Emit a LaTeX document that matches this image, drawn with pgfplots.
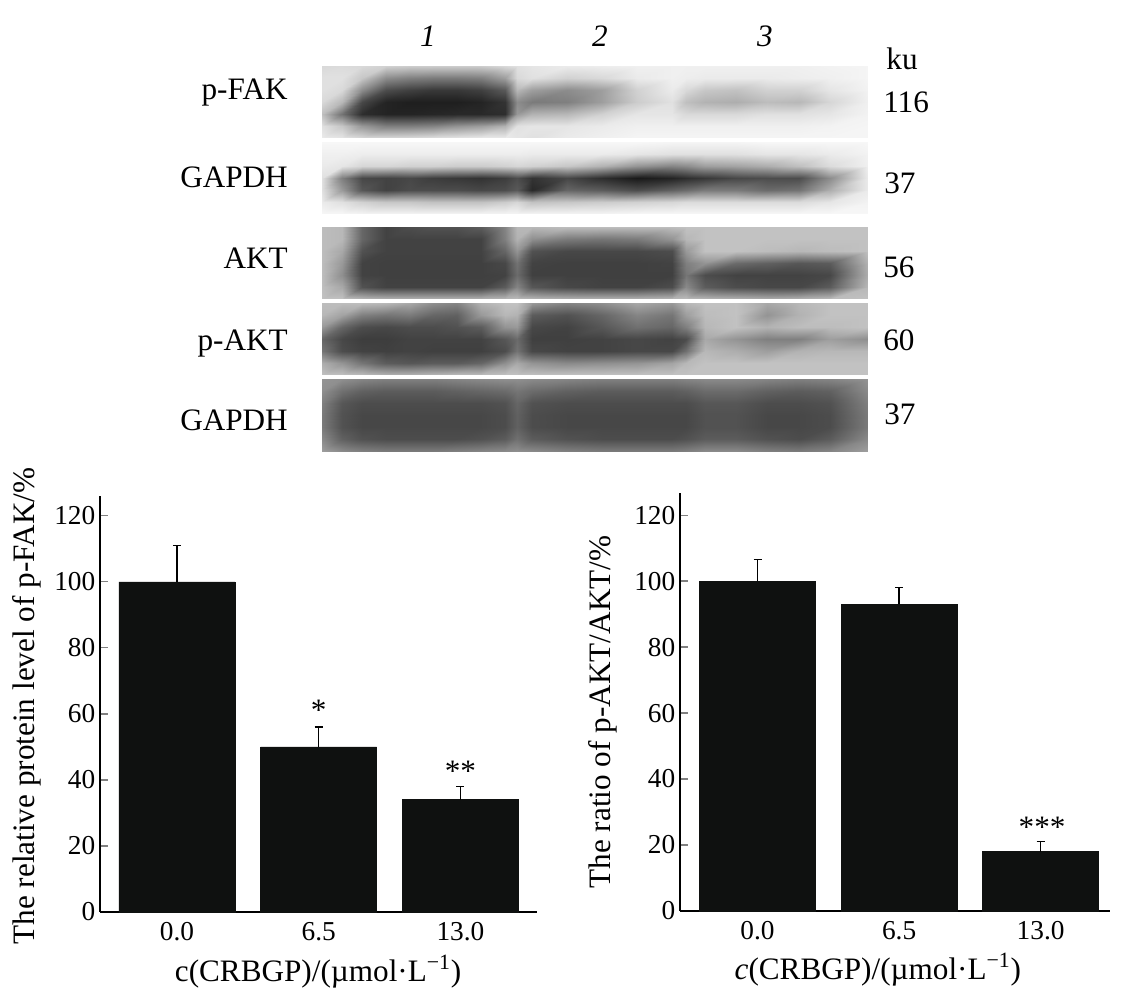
\documentclass[border=0pt]{standalone}
\usepackage{fontspec}
\setmainfont{Liberation Serif}
\usepackage{pgfplots}
\usepackage{pgfplotstable}
\pgfplotsset{compat=1.18}

\definecolor{barblack}{HTML}{0F1110}
\newcommand{\lab}{\fontsize{23.4}{25}\selectfont}
\newcommand{\tck}{\fontsize{20.5}{22}\selectfont}

% one blot panel: 22 x 7 grid of grey levels, top row first
\newcommand{\blot}[2]{%
  \addplot3[surf, shader=interp, mesh/cols=22] table[header=false, row sep=\\,
    x expr={colx(\coordindex-22*floor((\coordindex+0.5)/22))},
    y expr={#1+12*floor((\coordindex+0.5)/22)},
    z index=0] {#2};
}

\pgfplotsset{
  barchart/.style={
    scale only axis,
    anchor=south west,
    ybar,
    bar width=87pt,
    bar shift=0pt,
    axis lines*=left,
    axis line style={-, line width=1pt},
    ymin=0,
    xtick={0,1,2},
    xticklabels={0.0,6.5,13.0},
    ytick={0,20,40,60,80,100,120},
    xtick style={draw=none},
    ytick style={line width=0.9pt},
    tick align=inside,
    major tick length=6pt,
    tick label style={font=\tck, /pgf/number format/assume math mode=true},
    xticklabel shift=4pt,
    ylabel style={font=\lab, anchor=center},
    xlabel style={font=\lab, anchor=center},
    clip=false,
  },
  barplot/.style={
    fill=barblack, draw=barblack,
    error bars/.cd, y dir=plus, y explicit,
    error mark=|,
    error bar style={line width=1pt, black},
    error mark options={line width=1pt, black, mark size=3pt},
  },
}

\begin{document}
\begin{tikzpicture}
\path[use as bounding box] (0,0) rectangle (841.5pt,750pt);

% blots and their labels, in pixel coordinates of the page
\begin{axis}[
  at={(0pt,0pt)}, anchor=south west,
  width=841.5pt, height=750pt, scale only axis,
  hide axis, clip=false,
  xmin=0, xmax=1122, ymin=0, ymax=1000, y dir=reverse,
  view={0}{90},
  colormap={blot}{gray(0cm)=(0); gray(1cm)=(1)},
  point meta min=0, point meta max=100,
  declare function={
    cl(\v,\n)=max(0,min(\v,\n));
    colx(\c)=322+20*cl(\c,2)+23.83*cl(\c-2,6)+12*cl(\c-8,1)+15*cl(\c-9,1)
      +35*cl(\c-10,4)+14*cl(\c-14,1)+19*cl(\c-15,1)+31.25*cl(\c-16,4)+38*cl(\c-20,1);
  },
]
% p-FAK
\blot{66}{
85\\86\\85\\82\\80\\80\\80\\80\\85\\88\\90\\92\\93\\94\\94\\94\\94\\94\\94\\94\\95\\96\\
88\\88\\78\\55\\50\\48\\48\\50\\62\\85\\88\\82\\85\\92\\94\\93\\92\\92\\92\\93\\94\\96\\
88\\85\\55\\30\\25\\22\\22\\25\\35\\72\\62\\55\\62\\82\\92\\85\\78\\76\\82\\82\\90\\95\\
85\\72\\28\\14\\12\\12\\12\\14\\20\\55\\48\\50\\62\\80\\88\\75\\70\\68\\74\\72\\84\\94\\
75\\45\\18\\14\\14\\15\\16\\16\\18\\60\\70\\72\\82\\90\\90\\85\\85\\85\\88\\88\\90\\95\\
88\\78\\60\\50\\50\\52\\58\\62\\70\\88\\90\\90\\92\\94\\94\\94\\94\\94\\94\\94\\95\\96\\
92\\90\\85\\85\\86\\88\\90\\92\\92\\90\\88\\92\\94\\96\\96\\96\\96\\96\\96\\96\\96\\96\\
}
% GAPDH
\blot{142}{
97\\97\\97\\97\\97\\97\\97\\97\\97\\97\\97\\97\\97\\97\\96\\96\\96\\96\\97\\97\\97\\97\\
94\\94\\93\\93\\93\\93\\93\\93\\93\\93\\92\\92\\92\\90\\88\\88\\88\\88\\90\\90\\92\\95\\
92\\90\\84\\84\\82\\82\\80\\80\\82\\84\\82\\78\\70\\58\\52\\55\\62\\64\\68\\75\\86\\94\\
88\\50\\28\\26\\28\\24\\22\\20\\24\\30\\20\\28\\18\\10\\14\\18\\22\\28\\30\\30\\55\\92\\
88\\60\\34\\26\\30\\30\\30\\28\\30\\35\\16\\40\\36\\30\\38\\42\\48\\48\\42\\45\\68\\92\\
92\\88\\82\\78\\78\\76\\76\\76\\80\\84\\76\\78\\80\\82\\84\\86\\86\\86\\86\\86\\90\\95\\
97\\97\\96\\96\\96\\96\\96\\96\\96\\96\\96\\96\\96\\97\\97\\97\\97\\97\\97\\97\\97\\97\\
}
% AKT
\blot{227}{
74\\72\\40\\26\\30\\32\\32\\36\\52\\72\\72\\74\\74\\74\\74\\76\\76\\76\\76\\76\\76\\76\\
74\\72\\40\\26\\26\\26\\26\\26\\50\\70\\56\\48\\46\\48\\58\\72\\76\\76\\76\\76\\76\\76\\
74\\66\\32\\26\\26\\26\\26\\26\\40\\58\\32\\28\\28\\28\\30\\60\\76\\76\\74\\72\\74\\76\\
74\\60\\26\\25\\25\\25\\25\\25\\28\\45\\26\\25\\25\\25\\26\\50\\58\\42\\38\\34\\36\\70\\
74\\56\\26\\25\\25\\25\\25\\25\\26\\42\\25\\25\\25\\25\\25\\46\\30\\26\\26\\26\\28\\68\\
75\\66\\32\\26\\26\\26\\26\\26\\36\\52\\34\\28\\26\\26\\30\\54\\36\\30\\28\\28\\36\\72\\
76\\76\\72\\70\\70\\70\\70\\70\\72\\74\\72\\70\\70\\70\\72\\74\\72\\70\\68\\70\\74\\76\\
}
% p-AKT
\blot{303}{
74\\74\\74\\72\\66\\56\\52\\70\\76\\76\\60\\52\\56\\66\\60\\72\\76\\76\\66\\72\\76\\76\\
72\\64\\50\\46\\48\\40\\38\\60\\72\\70\\36\\32\\40\\52\\46\\62\\74\\76\\58\\70\\76\\76\\
60\\40\\30\\28\\30\\30\\32\\36\\58\\60\\28\\26\\34\\44\\40\\50\\72\\76\\70\\74\\74\\76\\
40\\28\\24\\24\\26\\26\\26\\26\\34\\42\\25\\25\\26\\28\\26\\30\\66\\58\\50\\50\\62\\56\\
46\\30\\26\\25\\26\\25\\25\\25\\30\\45\\28\\26\\26\\28\\28\\44\\72\\68\\62\\70\\72\\72\\
68\\58\\46\\36\\34\\36\\36\\40\\56\\66\\58\\54\\56\\58\\64\\72\\76\\76\\76\\76\\76\\76\\
76\\76\\74\\70\\70\\72\\74\\74\\76\\76\\76\\76\\76\\76\\76\\76\\76\\76\\76\\76\\76\\76\\
}
% GAPDH
\blot{379}{
58\\56\\52\\50\\50\\50\\52\\54\\56\\56\\54\\52\\50\\50\\50\\52\\54\\54\\52\\50\\52\\58\\
56\\44\\38\\36\\36\\36\\38\\40\\42\\46\\42\\38\\36\\36\\36\\38\\42\\42\\38\\36\\38\\54\\
50\\34\\30\\30\\30\\30\\30\\30\\32\\40\\32\\30\\30\\30\\30\\30\\34\\34\\30\\30\\32\\50\\
48\\32\\28\\28\\28\\28\\28\\28\\30\\38\\30\\28\\28\\28\\28\\28\\32\\32\\28\\28\\30\\48\\
48\\32\\28\\28\\28\\28\\28\\28\\30\\38\\30\\28\\28\\28\\28\\28\\32\\32\\28\\28\\30\\48\\
54\\38\\32\\30\\30\\30\\30\\32\\36\\44\\36\\32\\30\\30\\30\\32\\36\\36\\32\\30\\36\\54\\
62\\54\\50\\48\\48\\48\\50\\52\\54\\56\\54\\50\\48\\48\\48\\50\\54\\54\\50\\48\\52\\62\\
}

\node[font=\lab\itshape] at (axis cs:428,36) {1};
\node[font=\lab\itshape] at (axis cs:600,36) {2};
\node[font=\lab\itshape] at (axis cs:765,36) {3};
\node[font=\lab] at (axis cs:902,59) {ku};
\node[font=\lab, anchor=west, inner sep=0pt] at (axis cs:883,102) {116};
\node[font=\lab, anchor=west, inner sep=0pt] at (axis cs:884,183) {37};
\node[font=\lab, anchor=west, inner sep=0pt] at (axis cs:883,267) {56};
\node[font=\lab, anchor=west, inner sep=0pt] at (axis cs:883,340) {60};
\node[font=\lab, anchor=west, inner sep=0pt] at (axis cs:884,414) {37};
\node[font=\lab, anchor=east, inner sep=0pt] at (axis cs:288,93) {p-FAK};
\node[font=\lab, anchor=east, inner sep=0pt] at (axis cs:288,177) {GAPDH};
\node[font=\lab, anchor=east, inner sep=0pt] at (axis cs:288,258) {AKT};
\node[font=\lab, anchor=east, inner sep=0pt] at (axis cs:288,344) {p-AKT};
\node[font=\lab, anchor=east, inner sep=0pt] at (axis cs:288,420) {GAPDH};
\end{axis}

% left chart
\begin{axis}[
  barchart,
  at={(75pt,66pt)},
  width=327.75pt, height=312pt,
  xmin=-0.543, xmax=2.54, ymax=126,
  ylabel={The relative protein level of p-FAK/\%},
  xlabel={c(CRBGP)/(µmol·L\textsuperscript{−1})},
  ylabel style={at={(axis description cs:-0.168,0.495)}},
  xlabel style={at={(axis description cs:0.499,-0.144)}},
]
\addplot[barplot] coordinates {(0,100) +- (0,11) (1,50) +- (0,6) (2,34) +- (0,4)};
\node[font=\lab] at (axis cs:1,61) {*};
\node[font=\lab] at (axis cs:2,42.5) {**};
\end{axis}

% right chart
\begin{axis}[
  barchart,
  at={(510pt,66.75pt)},
  width=322.5pt, height=313.5pt,
  xmin=-0.548, xmax=2.49, ymax=126.7,
  ylabel={The ratio of p-AKT/AKT/\%},
  xlabel={\textit{c}(CRBGP)/(µmol·L\textsuperscript{−1})},
  ylabel style={at={(axis description cs:-0.18,0.476)}},
  xlabel style={at={(axis description cs:0.46,-0.141)}},
]
\addplot[barplot] coordinates {(0,100) +- (0,6.5) (1,93) +- (0,5) (2,18) +- (0,3)};
\node[font=\lab] at (axis cs:2.01,25.5) {***};
\end{axis}
\end{tikzpicture}
\end{document}
